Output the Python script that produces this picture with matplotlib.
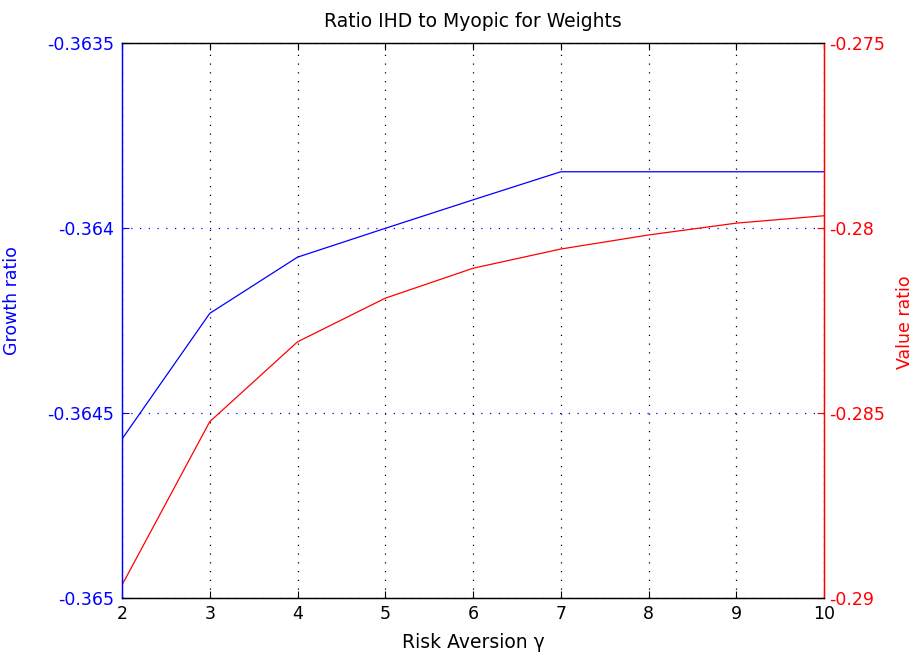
import matplotlib
matplotlib.use('Agg')
import matplotlib.pyplot as plt

plt.rcParams['font.family'] = ['DejaVu Sans']
plt.rcParams['font.size'] = 12.5

# risk aversion levels and the two ratio series
gamma = [2, 3, 4, 5, 6, 7, 8, 9, 10]
growth = [-0.36457, -0.36423, -0.364078, -0.364, -0.363923, -0.363847,
          -0.363847, -0.363847, -0.363847]
value = [-0.28965, -0.28523, -0.28307, -0.28189, -0.28108, -0.28056,
         -0.28018, -0.27986, -0.27966]

growthTicks = [-0.365, -0.3645, -0.364, -0.3635]
growthLabels = ['-0.365', '-0.3645', '-0.364', '-0.3635']
valueTicks = [-0.29, -0.285, -0.28, -0.275]
valueLabels = ['-0.29', '-0.285', '-0.28', '-0.275']

blue = '#0000ff'
red = '#ff0000'

fig = plt.figure(figsize=(9.16, 6.62), dpi=100)
ax1 = fig.add_axes([0.1332, 0.0967, 0.7664, 0.8376])
ax2 = ax1.twinx()

ax1.plot(gamma, growth, color=blue, lw=0.9)
ax2.plot(gamma, value, color=red, lw=0.9)

ax1.set_xlim(2, 10)
ax1.set_xticks(gamma)
ax1.set_ylim(-0.365, -0.3635)
ax1.set_yticks(growthTicks)
ax1.set_yticklabels(growthLabels)
ax2.set_ylim(-0.29, -0.275)
ax2.set_yticks(valueTicks)
ax2.set_yticklabels(valueLabels)

# dotted grid: black verticals, blue horizontals from the left axis
ax1.xaxis.grid(True, color='k', lw=0.9, dashes=(1, 6))
ax1.yaxis.grid(True, color=blue, lw=0.9, dashes=(1, 6))
ax1.set_axisbelow(True)

ax1.tick_params(axis='x', direction='in', top=True, length=5, colors='k',
                labelsize=12.5, pad=5)
ax1.tick_params(axis='y', direction='in', length=5, colors=blue,
                labelsize=12.5, pad=6)
ax2.tick_params(axis='y', direction='in', length=5, colors=red,
                labelsize=12.5, pad=4)

ax1.spines['left'].set_color(blue)
ax2.spines['left'].set_color(blue)
ax1.spines['right'].set_color(red)
ax2.spines['right'].set_color(red)
for ax in (ax1, ax2):
    for s in ax.spines.values():
        s.set_linewidth(0.9)

fig.text(0.516, 0.967, 'Ratio IHD to Myopic for Weights', fontsize=13.5,
         ha='center', va='center')

ax1.set_xlabel('Risk Aversion \u03b3', fontsize=13.5)
ax1.xaxis.set_label_coords(0.5, -0.081)
ax1.xaxis.label.set_va('center')

ax1.set_ylabel('Growth ratio', color=blue, fontsize=12.5)
ax1.yaxis.set_label_coords(-0.157, 0.537)
ax1.yaxis.label.set_va('center')

ax2.set_ylabel('Value ratio', color=red, fontsize=12.5)
ax2.yaxis.set_label_coords(1.116, 0.498)
ax2.yaxis.label.set_va('center')

fig.savefig('out.png', dpi=100)
